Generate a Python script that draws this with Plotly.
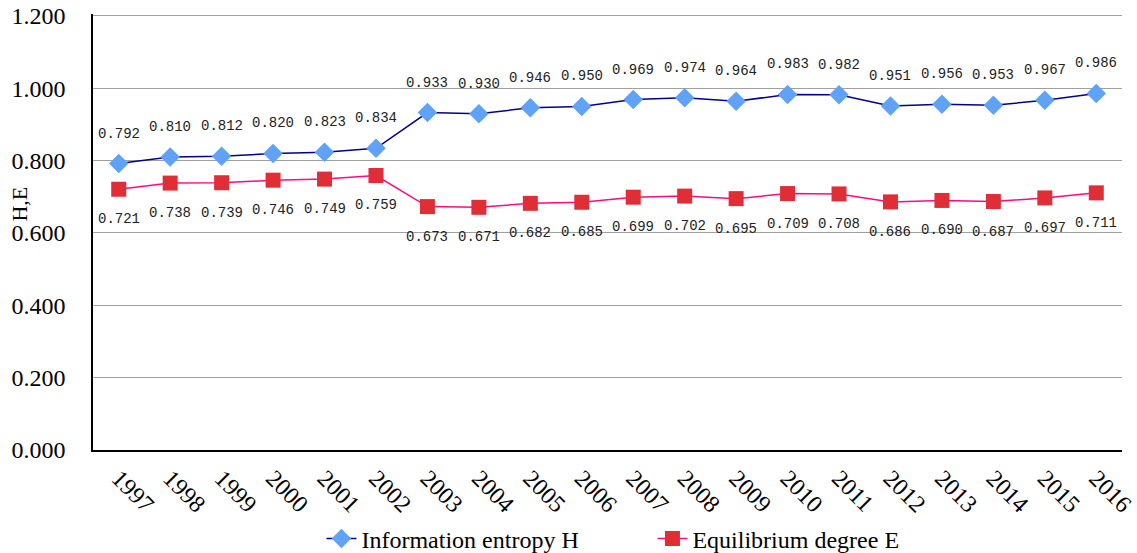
import plotly.graph_objects as go

years = [str(y) for y in range(1997, 2017)]
H = [0.792, 0.810, 0.812, 0.820, 0.823, 0.834, 0.933, 0.930, 0.946, 0.950,
     0.969, 0.974, 0.964, 0.983, 0.982, 0.951, 0.956, 0.953, 0.967, 0.986]
E = [0.721, 0.738, 0.739, 0.746, 0.749, 0.759, 0.673, 0.671, 0.682, 0.685,
     0.699, 0.702, 0.695, 0.709, 0.708, 0.686, 0.690, 0.687, 0.697, 0.711]
y_ticks = [0, 0.2, 0.4, 0.6, 0.8, 1.0, 1.2]

SERIF = "Liberation Serif, Times New Roman, serif"

fig = go.Figure()
fig.add_trace(go.Scatter(
    x=years, y=H, name="Information entropy H", mode="lines+markers",
    line=dict(color="#00008B", width=1.5),
    marker=dict(symbol="diamond", size=15, color="#5FA2F8"),
))
fig.add_trace(go.Scatter(
    x=years, y=E, name="Equilibrium degree E", mode="lines+markers",
    line=dict(color="#FF0A84", width=1.5),
    marker=dict(symbol="square", size=15, color="#DF2E36"),
))

label_font = dict(family="Liberation Mono, DejaVu Sans Mono, monospace", size=14, color="#222")
for i, (h, e) in enumerate(zip(H, E)):
    fig.add_annotation(x=i, y=h, xref="x", yref="y", text=f"{h:.3f}",
                       showarrow=False, yshift=30, font=label_font)
    fig.add_annotation(x=i, y=e, xref="x", yref="y", text=f"{e:.3f}",
                       showarrow=False, yshift=-30, font=label_font)

# y-axis title
fig.add_annotation(x=-0.071, y=0.565, xref="paper", yref="paper", text="H,E",
                   textangle=-90, showarrow=False, xanchor="center", yanchor="middle",
                   font=dict(size=22, family=SERIF, color="black"))

fig.update_layout(
    width=1137, height=553,
    margin=dict(l=93, r=15, t=14, b=103, autoexpand=False),
    paper_bgcolor="white", plot_bgcolor="white",
    font=dict(family=SERIF, color="black"),
    showlegend=True,
    legend=dict(orientation="h", x=0.222, xanchor="left", y=-0.204, yanchor="middle",
                font=dict(size=24, family=SERIF), tracegroupgap=0,
                entrywidth=286, entrywidthmode="pixels"),
)
fig.update_xaxes(
    type="category", tickangle=45, showgrid=False, automargin=False,
    showline=True, linecolor="black", linewidth=1.5,
    tickfont=dict(size=24, family=SERIF), ticklabelstandoff=3,
    ticks="", range=[-0.5, 19.5],
)
fig.update_yaxes(
    range=[0, 1.2055], tickvals=y_ticks, tickformat=".3f", automargin=False,
    showgrid=True, gridcolor="#A0A0A0", gridwidth=1.2,
    showline=True, linecolor="black", linewidth=1.5,
    zeroline=False, ticklabelstandoff=21, ticklabeloverflow="allow",
    tickfont=dict(size=24, family=SERIF),
)

fig.write_html("out.html", config={"displayModeBar": False},
               post_script="document.body.style.margin='0';")
